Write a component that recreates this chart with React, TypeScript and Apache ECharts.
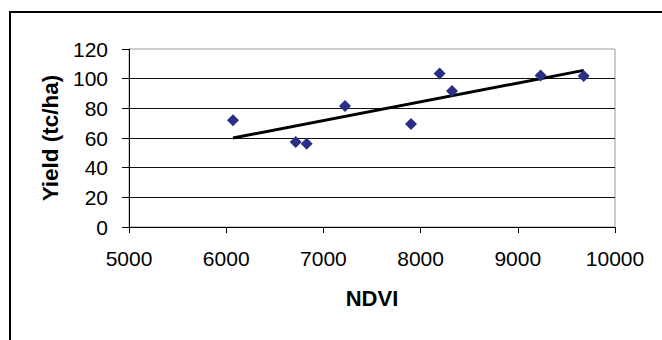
import React, { useEffect, useRef } from "react";
import * as echarts from "echarts";

const ndvi = [6070, 6715, 6828, 7222, 7901, 8196, 8323, 9235, 9678];
const yieldTcHa = [72, 57.3, 56.2, 81.6, 69.4, 103.4, 91.7, 102.2, 101.8];
const trendNdvi = [6070, 9678];
const trendYield = [60, 105.6];

const xTitle = "NDVI";
const yTitle = "Yield (tc/ha)";

const FONT = "'Liberation Sans', Arial, sans-serif";

export default function App() {
  const ref = useRef<HTMLDivElement>(null);

  useEffect(() => {
    document.body.style.margin = "0";
    const chart = echarts.init(ref.current!, null, { renderer: "svg" });
    const gridColors = ["#000", "#111", "#111", "#111", "#111", "#111", "#999"];
    chart.setOption({
      animation: false,
      backgroundColor: "#fff",
      textStyle: { fontFamily: FONT },
      grid: {
        left: 129,
        right: 47,
        top: 49,
        bottom: 113,
        show: true,
        borderColor: "#9a9a9a",
        borderWidth: 1,
        backgroundColor: "transparent",
      },
      xAxis: {
        type: "value",
        min: 5000,
        max: 10000,
        interval: 1000,
        name: xTitle,
        nameLocation: "middle",
        nameGap: 60,
        nameTextStyle: { fontFamily: FONT, fontSize: 22, fontWeight: "bold", color: "#000" },
        axisLine: { show: true, onZero: false, lineStyle: { color: "#000", width: 1 } },
        axisTick: { show: true, length: 6, lineStyle: { color: "#000" } },
        axisLabel: {
          fontFamily: FONT,
          fontSize: 21,
          color: "#000",
          margin: 21,
          formatter: (v: number) => String(v),
        },
        splitLine: { show: false },
      },
      yAxis: {
        type: "value",
        min: 0,
        max: 120,
        interval: 20,
        name: yTitle,
        nameLocation: "middle",
        nameGap: 60,
        nameTextStyle: { fontFamily: FONT, fontSize: 22.5, fontWeight: "bold", color: "#000" },
        axisLine: { show: true, lineStyle: { color: "#000", width: 1 } },
        axisTick: { show: true, length: 7, lineStyle: { color: "#000" } },
        axisLabel: { fontFamily: FONT, fontSize: 21, color: "#000", margin: 21 },
        splitLine: {
          show: true,
          showMaxLine: false,
          lineStyle: { color: gridColors, width: 1 },
        },
      },
      series: [
        {
          type: "line",
          data: trendNdvi.map((x, i) => [x, trendYield[i]]),
          symbol: "none",
          lineStyle: { color: "#000", width: 3 },
          z: 3,
          silent: true,
        },
        {
          type: "scatter",
          data: ndvi.map((x, i) => [x, yieldTcHa[i]]),
          symbol: "diamond",
          symbolSize: 12,
          itemStyle: { color: "#2B2E87", opacity: 1 },
          z: 4,
        },
      ],
      graphic: [
        {
          type: "rect",
          shape: { x: 10, y: 12, width: 700, height: 400 },
          style: { fill: "none", stroke: "#000", lineWidth: 2 },
          silent: true,
        },
      ],
    });
    return () => chart.dispose();
  }, []);

  return (
    <div
      ref={ref}
      style={{ position: "absolute", left: 0, top: 0, width: 662, height: 340 }}
    />
  );
}
